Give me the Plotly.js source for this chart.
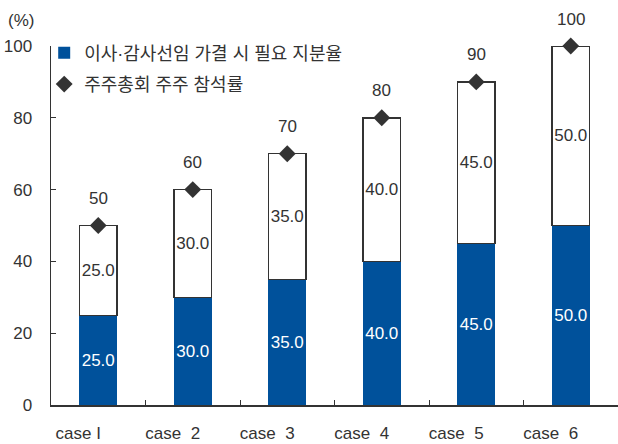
<!DOCTYPE html>
<html><head><meta charset="utf-8">
<script src="https://cdn.plot.ly/plotly-3.0.1.min.js"></script>
<style>html,body{margin:0;padding:0;background:#fff}#chart{width:618px;height:444px}</style>
</head><body><div id="chart"></div>
<script>
const categories = ["case I", "case\u00a0\u00a02", "case\u00a0\u00a03", "case\u00a0\u00a04", "case\u00a0\u00a05", "case\u00a0\u00a06"];
const requiredShare = [25.0, 30.0, 35.0, 40.0, 45.0, 50.0];
const remainder = [25.0, 30.0, 35.0, 40.0, 45.0, 50.0];
const attendance = [50, 60, 70, 80, 90, 100];
const seriesNames = ["이사·감사선임 가결 시 필요 지분율", "주주총회 주주 참석률"];
const yTicks = [0, 20, 40, 60, 80, 100];

const FONT = '"Liberation Sans", Arial, "Noto Sans CJK KR", sans-serif';
const BLUE = '#00519b';
const DARK = '#333333';
const FS = 17;

const traces = [
  {type:'bar', x:categories, y:requiredShare, name:seriesNames[0], legendgroup:'a',
   marker:{color:BLUE, line:{width:0}}, width:0.4,
   text:requiredShare.map(v=>v.toFixed(1)), textposition:'inside', insidetextanchor:'middle',
   textangle:0, constraintext:'none',
   textfont:{color:'#ffffff', size:FS, family:FONT}, hoverinfo:'none'},
  {type:'bar', x:categories, y:remainder, name:'rest', showlegend:false,
   marker:{color:'#ffffff', line:{color:DARK, width:1.5}}, width:0.4,
   text:remainder.map(v=>v.toFixed(1)), textposition:'inside', insidetextanchor:'middle',
   textangle:0, constraintext:'none',
   textfont:{color:DARK, size:FS, family:FONT}, hoverinfo:'none'},
  {type:'scatter', mode:'markers', x:categories, y:attendance, name:seriesNames[1], legendgroup:'b',
   marker:{symbol:'diamond', size:13, color:DARK}, cliponaxis:false, hoverinfo:'none'}
];

const annotations = attendance.map((v,i)=>({
  x:categories[i], y:v, xref:'x', yref:'y', text:String(v), showarrow:false,
  yshift:27, font:{size:FS, color:DARK, family:FONT}
}));
annotations.push({xref:'paper', yref:'paper', x:-0.053, y:1.072, xanchor:'center', yanchor:'middle',
  text:'(%)', showarrow:false, font:{size:FS, color:DARK, family:FONT}});

const layout = {
  width:618, height:444,
  margin:{l:51, r:0, t:46, b:39},
  paper_bgcolor:'#ffffff', plot_bgcolor:'#ffffff',
  barmode:'stack', bargap:0.6,
  font:{family:FONT, size:FS, color:DARK},
  showlegend:true,
  legend:{x:-0.012, y:1.032, xanchor:'left', yanchor:'top', bgcolor:'rgba(0,0,0,0)',
    font:{size:18, family:FONT, color:DARK}, traceorder:'grouped', tracegroupgap:5},
  xaxis:{showline:true, linecolor:DARK, linewidth:1.5, ticks:'inside', tickson:'boundaries',
    ticklen:5, tickcolor:DARK, showgrid:false, zeroline:false,
    ticklabelstandoff:12, ticklabelshift:-20,
    tickfont:{size:FS, family:FONT, color:DARK}},
  yaxis:{range:[0,100], showline:true, linecolor:DARK, linewidth:1.5, ticks:'inside', ticklen:5,
    tickcolor:DARK, tickvals:yTicks, showgrid:false, zeroline:false,
    tickfont:{size:FS, family:FONT, color:DARK}, ticklabelstandoff:14},
  annotations:annotations
};

Plotly.newPlot('chart', traces, layout, {displayModeBar:false, staticPlot:true});
</script></body></html>
